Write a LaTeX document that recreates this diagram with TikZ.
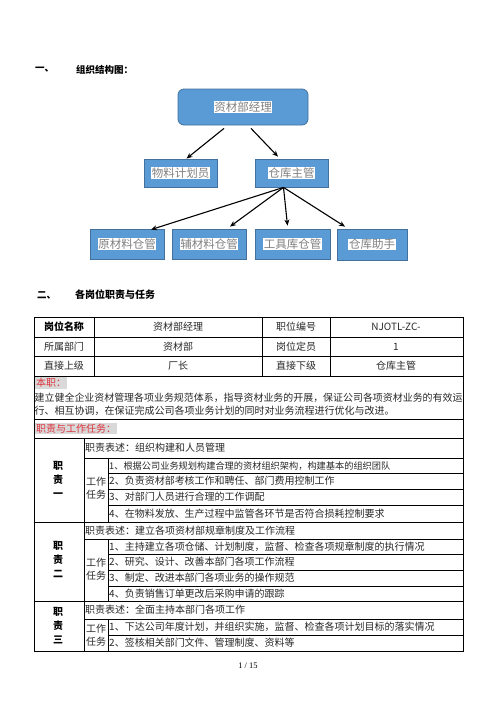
\documentclass[tikz,border=0pt]{standalone}
\usepackage{fontspec}
\setmainfont{Noto Sans CJK SC}
\newfontfamily\numfont{Liberation Serif}
\usetikzlibrary{arrows.meta,calc}
\definecolor{boxblue}{RGB}{91,155,213}
\definecolor{boxline}{RGB}{65,113,156}
\definecolor{boxtext}{RGB}{128,128,128}
\definecolor{redtxt}{RGB}{222,50,60}
\definecolor{hlgray}{RGB}{217,217,217}
\definecolor{tabtext}{RGB}{40,40,40}
\newcommand\wbox[1]{{\setlength{\fboxsep}{0.6pt}\colorbox{white}{#1}}}
\newcommand\gbox[1]{{\setlength{\fboxsep}{1pt}\colorbox{hlgray}{\textcolor{redtxt}{#1}}}}
\tikzset{
  orgbox/.style={draw=boxline, fill=boxblue, line width=0.8pt, inner sep=0pt,
    text=boxtext, font=\fontsize{11.5}{13}\selectfont},
  orgarrow/.style={-{Stealth[length=6pt,width=5pt]}, line width=1.1pt, black},
  heading/.style={anchor=west, inner sep=0pt, font=\fontsize{9.5}{11}\selectfont\bfseries},
  cell/.style={inner sep=0pt, text=tabtext, font=\fontsize{10}{12}\selectfont},
  lcell/.style={cell, anchor=west},
  thin/.style={line width=0.6pt, black},
  thick/.style={line width=1pt, black},
}
\begin{document}
\begin{tikzpicture}[x=1pt,y=-1pt]
\useasboundingbox[fill=white] (0,0) rectangle (496,702);

% headings
\node[heading] (h1a) at (35,70) {一、};
\node[heading] (h1b) at (76,70) {组织结构图：};
\node[heading] (h2a) at (37,295) {二、};
\node[heading, font=\fontsize{10}{12}\selectfont\bfseries] (h2b) at (75,295) {各岗位职责与任务};

% org chart
\node[orgbox, rounded corners=6pt, minimum width=130pt, minimum height=36pt] (top) at (243,107) {\wbox{资材部经理}};
\node[orgbox, minimum width=73pt, minimum height=28pt] (plan) at (180.5,173) {\wbox{物料计划员}};
\node[orgbox, minimum width=73pt, minimum height=28pt] (whm) at (291.5,173) {\wbox{仓库主管}};
\node[orgbox, minimum width=74pt, minimum height=30pt] (raw) at (127,244) {\wbox{原材料仓管}};
\node[orgbox, minimum width=74pt, minimum height=30pt] (aux) at (209,244) {\wbox{辅材料仓管}};
\node[orgbox, minimum width=75pt, minimum height=30pt] (tool) at (292.5,244) {\wbox{工具库仓管}};
\node[orgbox, minimum width=70pt, minimum height=31pt] (helper) at (372,244.5) {\wbox{仓库助手}};

\draw[orgarrow] ([xshift=-19pt,yshift=-3pt]top.south) -- ([xshift=6pt]plan.north);
\draw[orgarrow] ([xshift=8pt,yshift=-3pt]top.south) -- ([xshift=-13.5pt,yshift=2pt]whm.north);
\draw[orgarrow] ([xshift=-8pt]whm.south) -- ([xshift=24pt,yshift=-1pt]raw.north);
\draw[orgarrow] ([xshift=-8pt]whm.south) -- ([xshift=21pt,yshift=2pt]aux.north);
\draw[orgarrow] ([xshift=-8pt]whm.south) -- ([xshift=-5pt,yshift=3pt]tool.north);
\draw[orgarrow] ([xshift=-8pt]whm.south) -- ([xshift=-27pt,yshift=2pt]helper.north);

% table lines
\draw[thin] (34,337) -- (463,337);
\draw[thin] (34,356) -- (463,356);
\draw[thin] (34,376) -- (463,376);
\draw[thick] (34,419) -- (463,419);
\draw[thin] (34,438) -- (463,438);
\draw[thick] (34,522) -- (463,522);
\draw[thick] (34,601) -- (463,601);
\draw[thin] (94,317) -- (94,376);
\draw[thin] (262,317) -- (262,376);
\draw[thin] (330,317) -- (330,376);
\draw[thin] (84,438) -- (84,651);
% block 1
\draw[thin] (84,458) -- (463,458);
\draw[thin] (108,458) -- (108,522);
\draw[thin] (108,473) -- (463,473);
\draw[thin] (108,489) -- (463,489);
\draw[thin] (108,505) -- (463,505);
% block 2
\draw[thin] (84,539) -- (463,539);
\draw[thin] (108,539) -- (108,601);
\draw[thin] (108,554) -- (463,554);
\draw[thin] (108,570) -- (463,570);
\draw[thin] (108,586) -- (463,586);
% block 3
\draw[thin] (84,619) -- (463,619);
\draw[thin] (108,619) -- (108,651);
\draw[thin] (108,635) -- (463,635);
\draw[thick] (34,317) rectangle (463,651);

% header rows
\node[cell, font=\fontsize{10}{12}\selectfont\bfseries, text=black] (r1a) at (64,327) {岗位名称};
\node[cell] (r1b) at (178,327) {资材部经理};
\node[cell] (r1c) at (296,327) {职位编号};
\node[cell] (r1d) at (396,327) {NJOTL-ZC-};
\node[cell] (r2a) at (64,346.5) {所属部门};
\node[cell] (r2b) at (178,346.5) {资材部};
\node[cell] (r2c) at (296,346.5) {岗位定员};
\node[cell] (r2d) at (396,346.5) {1};
\node[cell] (r3a) at (64,366) {直接上级};
\node[cell] (r3b) at (178,366) {厂长};
\node[cell] (r3c) at (296,366) {直接下级};
\node[cell] (r3d) at (396,366) {仓库主管};

\node[lcell] (bz) at (35,383) {\gbox{本职：}};
\node[lcell, font=\fontsize{9.95}{12}\selectfont] (p1) at (34.5,397.5) {建立健全企业资材管理各项业务规范体系，指导资材业务的开展，保证公司各项资材业务的有效运};
\node[lcell] (p2) at (34.5,411) {行、相互协调，在保证完成公司各项业务计划的同时对业务流程进行优化与改进。};
\node[lcell] (zr) at (35,428.5) {\gbox{职责与工作任务：}};

% block 1
\node[cell, font=\fontsize{10}{12}\selectfont\bfseries, text=black, align=center] (z1) at (58,479) {职\\[2pt]责\\[2pt]一};
\node[lcell] (d1) at (85,448) {职责表述：组织构建和人员管理};
\node[cell, align=center] (w1) at (96,488) {工作\\[1pt]任务};
\node[lcell, font=\fontsize{9.2}{11}\selectfont] (i11) at (109,466) {1、根据公司业务规划构建合理的资材组织架构，构建基本的组织团队};
\node[lcell] (i12) at (109,481) {2、负责资材部考核工作和聘任、部门费用控制工作};
\node[lcell] (i13) at (109,497) {3、对部门人员进行合理的工作调配};
\node[lcell] (i14) at (109,513.5) {4、在物料发放、生产过程中监管各环节是否符合损耗控制要求};

% block 2
\node[cell, font=\fontsize{10}{12}\selectfont\bfseries, text=black, align=center] (z2) at (58,560) {职\\[2pt]责\\[2pt]二};
\node[lcell] (d2) at (85,530.5) {职责表述：建立各项资材部规章制度及工作流程};
\node[cell, align=center] (w2) at (96,569) {工作\\[1pt]任务};
\node[lcell] (i21) at (109,546.5) {1、主持建立各项仓储、计划制度，监督、检查各项规章制度的执行情况};
\node[lcell] (i22) at (109,562) {2、研究、设计、改善本部门各项工作流程};
\node[lcell] (i23) at (109,578) {3、制定、改进本部门各项业务的操作规范};
\node[lcell] (i24) at (109,593.5) {4、负责销售订单更改后采购申请的跟踪};

% block 3
\node[cell, font=\fontsize{10}{12}\selectfont\bfseries, text=black, align=center] (z3) at (58,626) {职\\[2pt]责\\[2pt]三};
\node[lcell] (d3) at (85,610) {职责表述：全面主持本部门各项工作};
\node[cell, align=center] (w3) at (96,635) {工作\\[1pt]任务};
\node[lcell] (i31) at (109,627) {1、下达公司年度计划，并组织实施，监督、检查各项计划目标的落实情况};
\node[lcell] (i32) at (109,643) {2、签核相关部门文件、管理制度、资料等};

\node[inner sep=0pt, font=\numfont\fontsize{8.5}{10}\selectfont] (pg) at (248,666) {1 / 15};
\end{tikzpicture}
\end{document}
